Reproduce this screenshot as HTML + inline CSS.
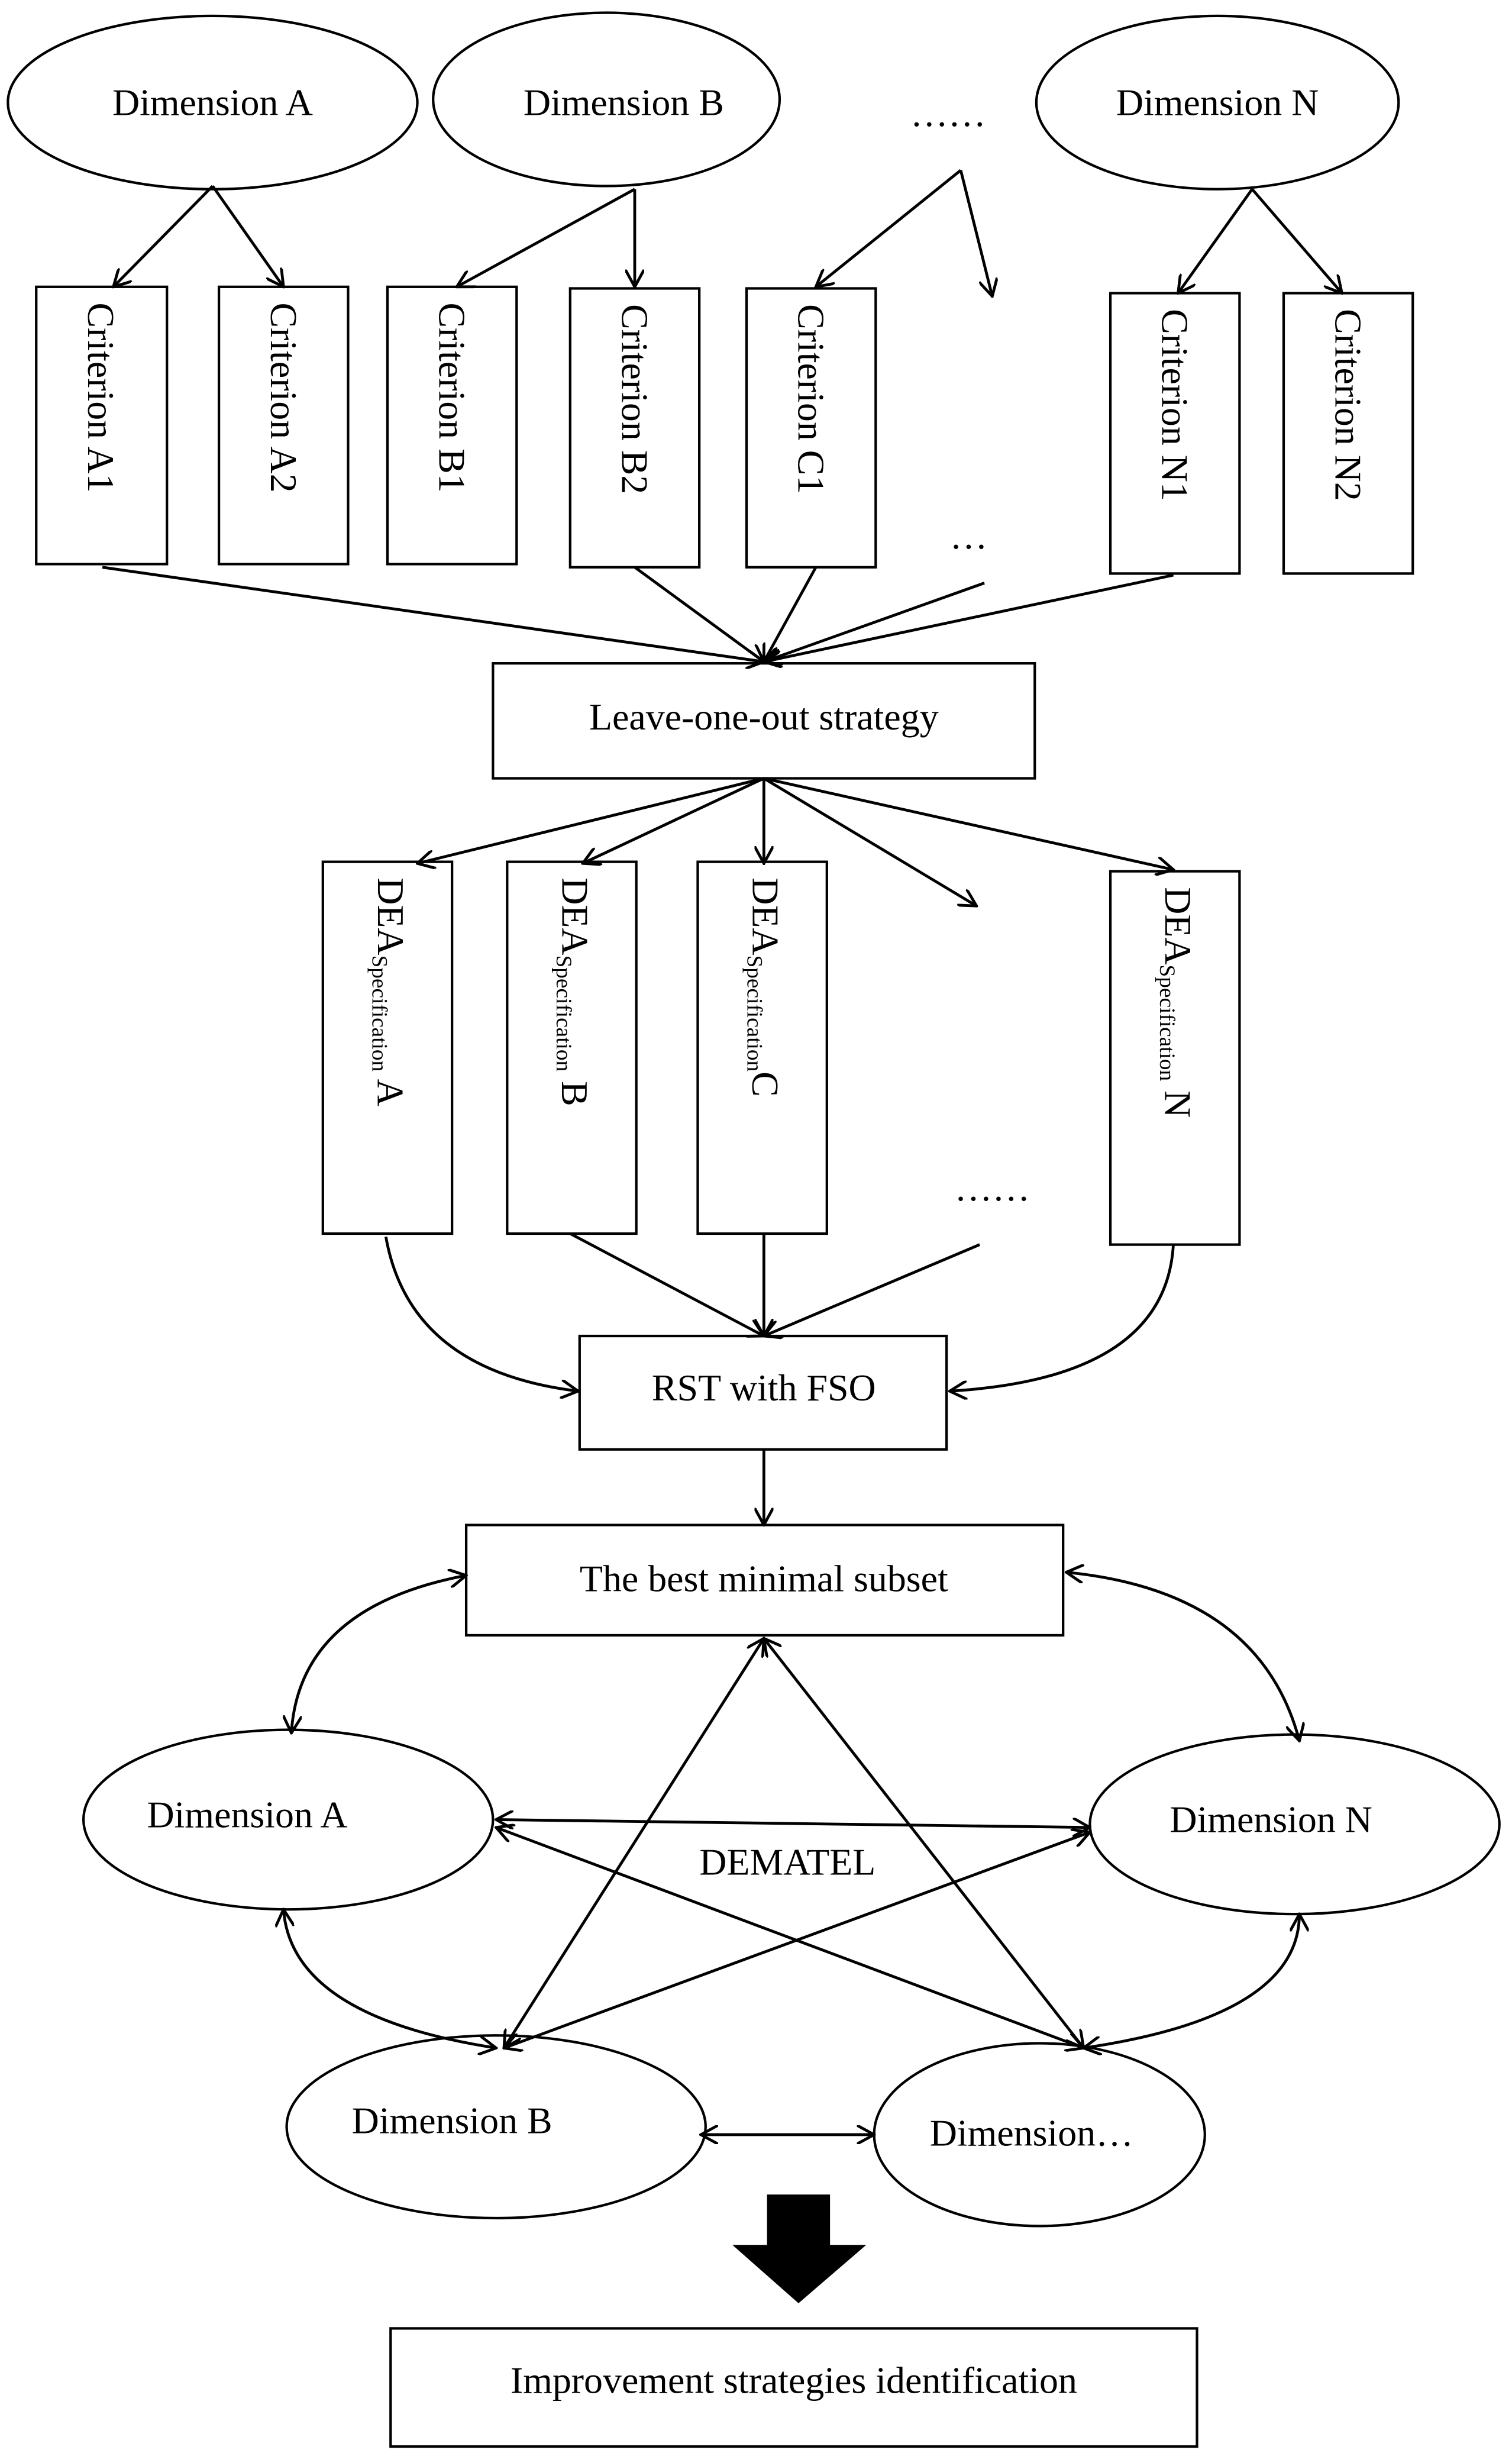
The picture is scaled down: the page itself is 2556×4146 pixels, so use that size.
<!DOCTYPE html>
<html><head><meta charset="utf-8"><style>
html,body{margin:0;padding:0;background:#fff}
svg{display:block}
text{font-family:"Liberation Serif",serif;fill:#000}
</style></head><body>
<svg width="2556" height="4146" viewBox="0 0 960 1557" xmlns="http://www.w3.org/2000/svg">
<defs>
<marker id="a" viewBox="0 0 12 12" refX="11" refY="6" markerWidth="12" markerHeight="12" markerUnits="userSpaceOnUse" orient="auto-start-reverse">
<path d="M0,0 L11,6 L0,12" fill="none" stroke="#000" stroke-width="1.8"/>
</marker>
</defs>
<g fill="none" stroke="#000" stroke-width="1.6">
<ellipse cx="135" cy="65" rx="130" ry="55"/>
<ellipse cx="385" cy="63" rx="110" ry="55"/>
<ellipse cx="773" cy="65" rx="115" ry="55"/>
<rect x="23" y="182" width="83" height="176"/>
<rect x="139" y="182" width="82" height="176"/>
<rect x="246" y="182" width="82" height="176"/>
<rect x="362" y="183" width="82" height="177"/>
<rect x="474" y="183" width="82" height="177"/>
<rect x="705" y="186" width="82" height="178"/>
<rect x="815" y="186" width="82" height="178"/>
<rect x="313" y="421" width="344" height="73"/>
<rect x="205" y="547" width="82" height="236"/>
<rect x="322" y="547" width="82" height="236"/>
<rect x="443" y="547" width="82" height="236"/>
<rect x="705" y="553" width="82" height="237"/>
<rect x="368" y="848" width="233" height="72"/>
<rect x="296" y="968" width="379" height="70"/>
<ellipse cx="183" cy="1155" rx="130" ry="57"/>
<ellipse cx="822" cy="1158" rx="130" ry="57"/>
<ellipse cx="315" cy="1350" rx="133" ry="58"/>
<ellipse cx="660" cy="1355" rx="105" ry="58"/>
<rect x="248" y="1478" width="512" height="75"/>
</g>
<g fill="none" stroke="#000" stroke-width="1.8" marker-end="url(#a)">
<path d="M135,118 L72,182"/><path d="M135,118 L180,182"/>
<path d="M403,120 L290,182"/><path d="M403,120 L403,182"/>
<path d="M610,108 L518,182"/><path d="M610,108 L630,188"/>
<path d="M795,120 L748,186"/><path d="M795,120 L852,186"/>
<path d="M65,360 L485,420"/><path d="M403,360 L485,420"/><path d="M518,360 L485,420"/><path d="M625,370 L485,420"/><path d="M745,365 L485,420"/>
<path d="M485,494 L265,548"/><path d="M485,494 L370,548"/><path d="M485,494 L485,548"/><path d="M485,494 L620,575"/><path d="M485,494 L745,552"/>
<path d="M245,785 Q260,870 367,883"/>
<path d="M362,783 L485,848"/><path d="M485,783 L485,848"/><path d="M622,790 L485,848"/>
<path d="M745,790 Q740,875 603,883"/>
<path d="M485,920 L485,968"/>
</g>
<g fill="none" stroke="#000" stroke-width="1.8" marker-start="url(#a)" marker-end="url(#a)">
<path d="M296,1000 Q190,1020 185,1100"/>
<path d="M677,998 Q800,1010 825,1105"/>
<path d="M315,1155 L692,1160"/>
<path d="M485,1040 L320,1300"/>
<path d="M485,1040 L688,1300"/>
<path d="M315,1160 L688,1300"/>
<path d="M320,1300 L692,1163"/>
<path d="M180,1212 Q185,1280 315,1300"/>
<path d="M825,1215 Q825,1280 688,1300"/>
<path d="M445,1355 L555,1355"/>
</g>
<polygon points="487,1393 527,1393 527,1425 550,1425 507,1462 465,1425 487,1425" fill="#000"/>
<g font-size="24">
<text x="135" y="73" text-anchor="middle">Dimension A</text>
<text x="396" y="73" text-anchor="middle">Dimension B</text>
<text x="773" y="73" text-anchor="middle">Dimension N</text>
<text x="602" y="80" text-anchor="middle">……</text>
<text x="615" y="348" text-anchor="middle">…</text>
<text x="485" y="463" text-anchor="middle">Leave-one-out strategy</text>
<text x="630" y="762" text-anchor="middle">……</text>
<text x="485" y="889" text-anchor="middle">RST with FSO</text>
<text x="485" y="1010" text-anchor="middle">The best minimal subset</text>
<text x="157" y="1160" text-anchor="middle">Dimension A</text>
<text x="807" y="1163" text-anchor="middle">Dimension N</text>
<text x="500" y="1190" text-anchor="middle">DEMATEL</text>
<text x="287" y="1354" text-anchor="middle">Dimension B</text>
<text x="655" y="1362" text-anchor="middle">Dimension…</text>
<text x="504" y="1519" text-anchor="middle">Improvement strategies identification</text>
</g>
<g font-size="24" dominant-baseline="central">
<text transform="translate(64,192) rotate(90)">Criterion A1</text>
<text transform="translate(180,192) rotate(90)">Criterion A2</text>
<text transform="translate(287,192) rotate(90)">Criterion B1</text>
<text transform="translate(403,193) rotate(90)">Criterion B2</text>
<text transform="translate(515,193) rotate(90)">Criterion C1</text>
<text transform="translate(746,196) rotate(90)">Criterion N1</text>
<text transform="translate(856,196) rotate(90)">Criterion N2</text>
<text transform="translate(248,557) rotate(90)">DEA<tspan font-size="14" dy="7">Specification</tspan><tspan dy="-7"> A</tspan></text>
<text transform="translate(365,557) rotate(90)">DEA<tspan font-size="14" dy="7">Specification</tspan><tspan dy="-7"> B</tspan></text>
<text transform="translate(486,557) rotate(90)">DEA<tspan font-size="14" dy="7">Specification</tspan><tspan dy="-7">C</tspan></text>
<text transform="translate(748,563) rotate(90)">DEA<tspan font-size="14" dy="7">Specification</tspan><tspan dy="-7"> N</tspan></text>
</g>
</svg>
</body></html>
